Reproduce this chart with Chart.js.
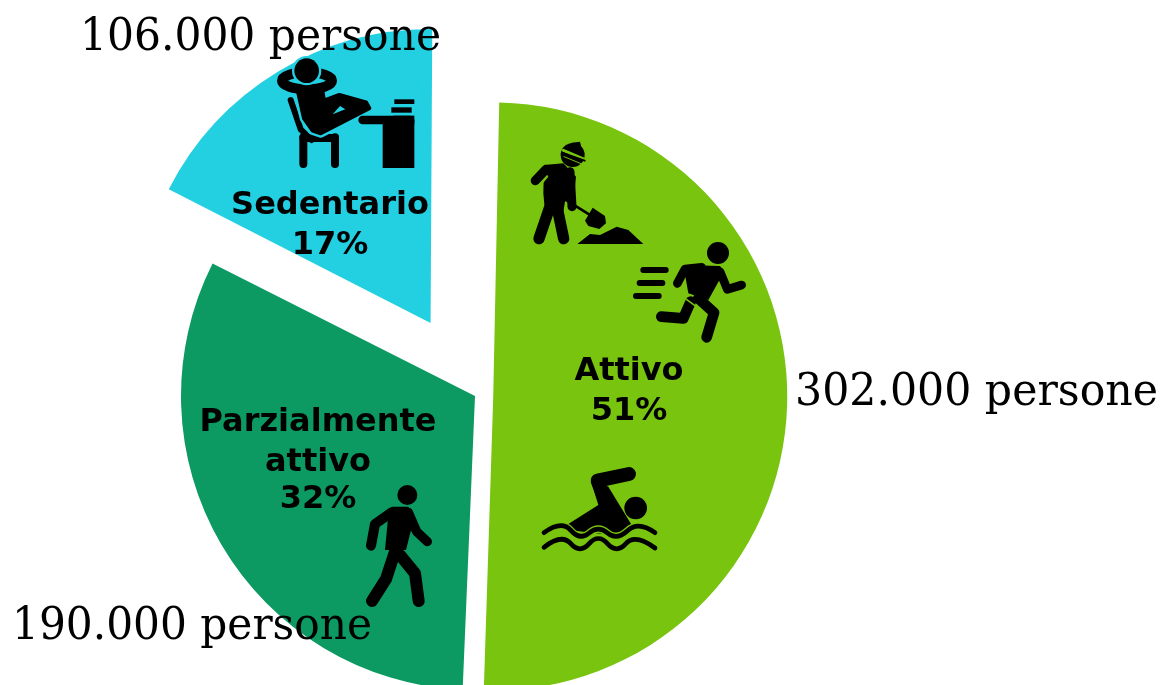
<!DOCTYPE html>
<html><head><meta charset="utf-8">
<style>html,body{margin:0;padding:0;background:#fff;overflow:hidden}canvas{display:block}</style>
<script src="https://cdn.jsdelivr.net/npm/chart.js@4"></script>
</head><body>
<canvas id="c" width="1163" height="685"></canvas>
<script>
const categories = ["Attivo", "Parzialmente attivo", "Sedentario"];
const persone = [302000, 190000, 106000];
const percentLabels = ["51%", "32%", "17%"];
const peopleLabels = ["302.000 persone", "190.000 persone", "106.000 persone"];
const sliceColors = ["#78C40E", "#0C9A62", "#22D0E2"];
const sliceOffsets = [73, 0, 342];

const RADIUS = 294;
const SERIF = '"DejaVu Serif"';
const SANS = '"DejaVu Sans"';
const peopleAnchors = [[795,405,363],[12,639,360],[80,50,361]];
const labelBlocks = [
  {x:629, lines:[["Attivo",380],["51%",420]]},
  {x:318, lines:[["Parzialmente",431],["attivo",471],["32%",508]]},
  {x:330, lines:[["Sedentario",214],["17%",254]]}
];

function icons(ctx){
  let ox=0, oy=0;
  const X=x=>ox+x/3, Y=y=>oy+y/3;
  const line=(w,pts,col='#000')=>{ctx.strokeStyle=col;ctx.lineWidth=w/3;ctx.lineCap='round';ctx.lineJoin='round';ctx.beginPath();
    pts.forEach((p,i)=>i?ctx.lineTo(X(p[0]),Y(p[1])):ctx.moveTo(X(p[0]),Y(p[1])));ctx.stroke();};
  const poly=(pts,col='#000')=>{ctx.fillStyle=col;ctx.beginPath();pts.forEach((p,i)=>i?ctx.lineTo(X(p[0]),Y(p[1])):ctx.moveTo(X(p[0]),Y(p[1])));ctx.closePath();ctx.fill();};
  const circ=(x,y,r,col='#000')=>{ctx.fillStyle=col;ctx.beginPath();ctx.arc(X(x),Y(y),r/3,0,Math.PI*2);ctx.fill();};
  const rect=(x0,y0,x1,y1)=>{ctx.fillStyle='#000';ctx.fillRect(X(x0),Y(y0),(x1-x0)/3,(y1-y0)/3);};
  const wave=(w,pts,col='#000')=>{ctx.strokeStyle=col;ctx.lineWidth=w/3;ctx.lineCap='round';ctx.lineJoin='round';ctx.beginPath();ctx.moveTo(X(pts[0][0]),Y(pts[0][1]));
    for(let i=1;i<pts.length-1;i++){const l=i===pts.length-2,mx=l?pts[i+1][0]:(pts[i][0]+pts[i+1][0])/2,my=l?pts[i+1][1]:(pts[i][1]+pts[i+1][1])/2;ctx.quadraticCurveTo(X(pts[i][0]),Y(pts[i][1]),X(mx),Y(my));}
    ctx.stroke();};

  // Sedentario
  ox=260;oy=40; const cy=sliceColors[2];
  line(24,[[130,292],[130,372]]); line(24,[[225,292],[225,372]]); line(24,[[130,294],[225,294]]);
  line(18,[[92,180],[122,268],[155,300]]);
  const bodyS=[[112,146],[186,146],[192,182],[238,165],[318,187],[328,205],[182,280],[158,272],[132,235]];
  line(26,bodyS.concat([bodyS[0]]),cy); poly(bodyS); line(12,bodyS.concat([bodyS[0]]));
  poly([[218,223],[240,198],[256,208]],cy);
  ctx.save();ctx.strokeStyle='#000';ctx.lineWidth=10;ctx.beginPath();ctx.ellipse(X(141),Y(122),25,8.5,0,0,Math.PI*2);ctx.stroke();ctx.restore();
  circ(140,92,44,cy); circ(140,92,37);
  line(26,[[308,240],[450,240]]); rect(368,240,463,384); rect(400,227,463,253);
  rect(403,178,463,192); rect(394,202,455,218);

  // Digger
  ox=520;oy=130; const gr=sliceColors[0];
  circ(158,75,36); poly([[155,38],[180,35],[185,55],[155,50]]);
  line(9,[[130,61],[190,87]],gr);
  line(6,[[126,68],[194,92]]);
  line(3,[[132,80],[188,103]],gr);
  poly([[72,105],[130,100],[168,140],[165,170],[135,215],[130,245],[75,245],[70,190]]);
  line(27,[[150,125],[156,230]]);
  poly([[72,118],[85,140],[60,170],[48,160]],gr);
  line(28,[[46,152],[78,118]]);
  line(34,[[88,235],[57,326]]); line(34,[[112,235],[131,326]]);
  line(8,[[135,208],[212,256]]);
  poly([[218,233],[255,258],[258,280],[238,297],[205,288],[195,272]]);
  poly([[172,342],[210,312],[240,315],[290,290],[325,300],[370,342]]);

  // Runner
  circ(594,369,33);
  poly([[490,405],[600,408],[612,425],[565,510],[505,490]]);
  line(26,[[472,460],[495,417],[545,412]]); line(26,[[600,425],[622,478],[665,465]]);
  line(32,[[512,515],[490,565],[424,560]]); line(32,[[535,505],[582,548],[560,622]]);
  line(5,[[495,505],[524,526]],gr);
  line(18,[[370,420],[437,420]]); line(18,[[359,459],[427,459]]); line(18,[[348,498],[416,498]]);

  // Swimmer
  ox=530;oy=450;
  circ(317,174,34);
  line(42,[[297,72],[203,92],[225,150]]);
  poly([[115,222],[205,165],[185,100],[235,110],[305,225],[270,258],[115,240]]);
  const w1=[[42,248],[95,210],[150,272],[205,226],[260,272],[325,212],[375,248]];
  wave(22,w1,gr);
  wave(14,w1);
  wave(14,[[42,292],[95,250],[150,312],[205,250],[260,312],[315,250],[375,294]]);

  // Walker
  ox=350;oy=475;
  circ(172,60,30);
  poly([[125,95],[175,95],[192,130],[168,225],[105,225],[113,140]]);
  line(30,[[125,112],[75,147],[63,212]]); line(28,[[175,112],[200,170],[232,200]]);
  line(36,[[135,230],[108,312],[66,378]]); line(36,[[150,240],[195,295],[206,378]]);
}

const overlay = {
  id:'overlay',
  afterDatasetsUpdate(chart){
    // Chart.js grows an offset arc's radius; keep every slice the same size as in the reference.
    chart.getDatasetMeta(0).data.forEach((arc,i)=>{
      const fix=1-Math.sin(Math.min(Math.PI,arc.circumference));
      arc.outerRadius=RADIUS-sliceOffsets[i]/4*fix;
    });
  },
  afterDatasetsDraw(chart){
    const ctx=chart.ctx; ctx.save();
    icons(ctx);
    ctx.fillStyle='#000'; ctx.textBaseline='alphabetic';
    ctx.textAlign='center'; ctx.font='bold 32px '+SANS;
    labelBlocks.forEach(b=>b.lines.forEach(l=>ctx.fillText(l[0],b.x,l[1])));
    ctx.textAlign='left'; ctx.font='44px '+SERIF;
    peopleLabels.forEach((t,i)=>{const a=peopleAnchors[i];ctx.fillText(t,a[0],a[1],a[2]);});
    ctx.restore();
  }
};

new Chart(document.getElementById('c'),{
  type:'pie',
  data:{labels:categories,datasets:[{data:persone,backgroundColor:sliceColors,borderWidth:0,offset:sliceOffsets,clip:false}]},
  options:{
    responsive:false,animation:false,radius:RADIUS,rotation:0.6,
    layout:{padding:{left:0,right:213,top:107,bottom:0}},
    plugins:{legend:{display:false},tooltip:{enabled:false},title:{display:false}}
  },
  plugins:[overlay]
});
</script>
</body></html>
